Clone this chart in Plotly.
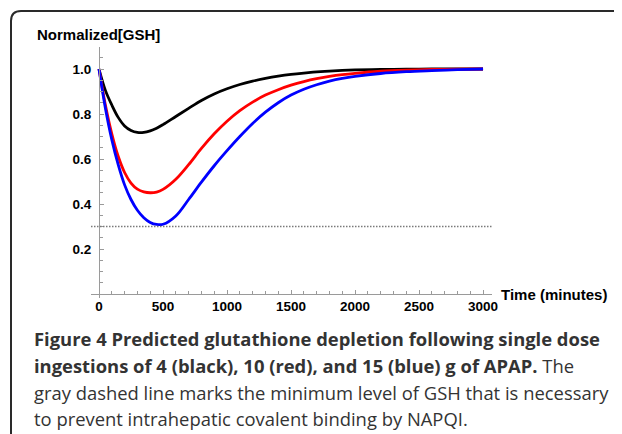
import plotly.graph_objects as go

# ---------------- data ----------------
time_min = [0, 50, 100, 150, 200, 250, 300, 350, 400, 450, 500,
            600, 700, 800, 900, 1000, 1100, 1200, 1300, 1400, 1500, 1600, 1700,
            1800, 1900, 2000, 2200, 2400, 2600, 2800, 3000]
gsh_4g = [1.0, 0.905, 0.84, 0.785, 0.747, 0.727, 0.718, 0.718, 0.725, 0.737, 0.753,
          0.789, 0.825, 0.86, 0.889, 0.912, 0.931, 0.946, 0.958, 0.968, 0.976, 0.982,
          0.987, 0.991, 0.994, 0.996, 0.998, 0.999, 1.0, 1.0, 1.0]
gsh_10g = [1.0, 0.84, 0.712, 0.612, 0.54, 0.493, 0.466, 0.454, 0.45, 0.453, 0.465,
           0.51, 0.575, 0.647, 0.712, 0.768, 0.815, 0.853, 0.884, 0.908, 0.928, 0.944,
           0.957, 0.967, 0.975, 0.981, 0.99, 0.995, 0.998, 0.999, 1.0]
gsh_15g = [1.0, 0.826, 0.686, 0.575, 0.485, 0.42, 0.372, 0.339, 0.318, 0.309, 0.31,
           0.347, 0.42, 0.497, 0.57, 0.637, 0.70, 0.758, 0.808, 0.85, 0.884, 0.91,
           0.93, 0.946, 0.958, 0.967, 0.98, 0.988, 0.993, 0.997, 1.0]
threshold = 0.3

x_tick_vals = [0, 500, 1000, 1500, 2000, 2500, 3000]
x_tick_text = ["0", "500", "1000", "1500", "2000", "2500", "3000"]
y_tick_vals = [0.2, 0.4, 0.6, 0.8, 1.0]
y_tick_text = ["0.2", "0.4", "0.6", "0.8", "1.0"]

series_names = ["4 g", "10 g", "15 g"]
series_colors = ["#000000", "#ff0000", "#0000ff"]

caption_lines = [
    "<b>Figure 4 Predicted glutathione depletion following single dose</b>",
    "<b>ingestions of 4 (black), 10 (red), and 15 (blue) g of APAP.</b> The",
    "gray dashed line marks the minimum level of GSH that is necessary",
    "to prevent intrahepatic covalent binding by NAPQI.",
]

# ---------------- layout geometry (page pixels) ----------------
PAGE_OFF = 8                      # default body margin of the html page
W, H = 622 - PAGE_OFF, 434 - PAGE_OFF
PLOT_L, PLOT_T, PW, PH = 91, 47, 401, 251   # plot area in page pixels
ML, MT = PLOT_L - PAGE_OFF, PLOT_T - PAGE_OFF
MR, MB = W - ML - PW, H - MT - PH


def px_x(px):
    return (px - PLOT_L) / PW


def px_y(py):
    return (PLOT_T + PH - py) / PH


fig = go.Figure()
for name, vals, col in zip(series_names, [gsh_4g, gsh_10g, gsh_15g], series_colors):
    fig.add_trace(go.Scatter(
        x=time_min, y=vals, mode="lines", name=name,
        line=dict(color=col, width=2.8, shape="spline", smoothing=1.0),
        hoverinfo="x+y",
    ))

axis_gray = "#9a9a9a"
tickfont = dict(family="Liberation Sans, Arial, sans-serif", size=13.5,
                color="black", weight="bold")

fig.update_layout(
    width=W, height=H,
    margin=dict(l=ML, r=MR, t=MT, b=MB, pad=0),
    paper_bgcolor="white", plot_bgcolor="white",
    showlegend=False,
    xaxis=dict(
        range=[-62.5, 3070], anchor="free", position=px_y(294),
        showgrid=False, zeroline=False,
        showline=True, linecolor=axis_gray, linewidth=1.2,
        tickmode="array", tickvals=x_tick_vals, ticktext=x_tick_text,
        ticks="inside", ticklen=4, tickwidth=1, tickcolor=axis_gray,
        tickfont=tickfont, ticklabelstandoff=0,
        minor=dict(dtick=100, tick0=0, ticks="inside", ticklen=2.5,
                   tickwidth=1, tickcolor=axis_gray, showgrid=False),
    ),
    yaxis=dict(
        range=[-0.0178, 1.0978], anchor="free", position=px_x(99),
        showgrid=False, zeroline=False,
        showline=True, linecolor=axis_gray, linewidth=1.2,
        tickmode="array", tickvals=y_tick_vals, ticktext=y_tick_text,
        ticks="inside", ticklen=4, tickwidth=1, tickcolor=axis_gray,
        tickfont=tickfont, ticklabelstandoff=5,
        minor=dict(dtick=0.05, tick0=0, ticks="inside", ticklen=2.5,
                   tickwidth=1, tickcolor=axis_gray, showgrid=False),
    ),
)

# threshold (gray dotted line)
fig.add_shape(type="line", xref="paper", yref="y", x0=0, x1=1,
              y0=threshold, y1=threshold,
              line=dict(color="#7a7a7a", width=1.5, dash="1.5px,1.5px"))

# rounded frame (open at right/bottom, cropped)
r = 10
path = (f"M {px_x(11)},{px_y(460)} L {px_x(11)},{px_y(11 + r)} "
        f"Q {px_x(11)},{px_y(11)} {px_x(11 + r)},{px_y(11)} L {px_x(660)},{px_y(11)}")
fig.add_shape(type="path", xref="paper", yref="paper", path=path,
              line=dict(color="#2a2a2a", width=2))

labfont = dict(family="Liberation Sans, Arial, sans-serif", size=15,
               color="black", weight="bold")
fig.add_annotation(text="Normalized[GSH]", xref="paper", yref="paper",
                   x=px_x(35), y=px_y(34), xanchor="left", yanchor="middle",
                   showarrow=False, font=labfont)
fig.add_annotation(text="Time (minutes)", xref="paper", yref="paper",
                   x=px_x(499), y=px_y(294), xanchor="left", yanchor="middle",
                   showarrow=False, font=labfont)

cap_y = [338, 365, 392, 418]
for line, cy in zip(caption_lines, cap_y):
    fig.add_annotation(text=line, xref="paper", yref="paper",
                       x=px_x(32), y=px_y(cy), xanchor="left", yanchor="middle",
                       showarrow=False,
                       font=dict(family="Open Sans, sans-serif", size=18.4,
                                 color="#333333"))

fig.write_html("out.html")
